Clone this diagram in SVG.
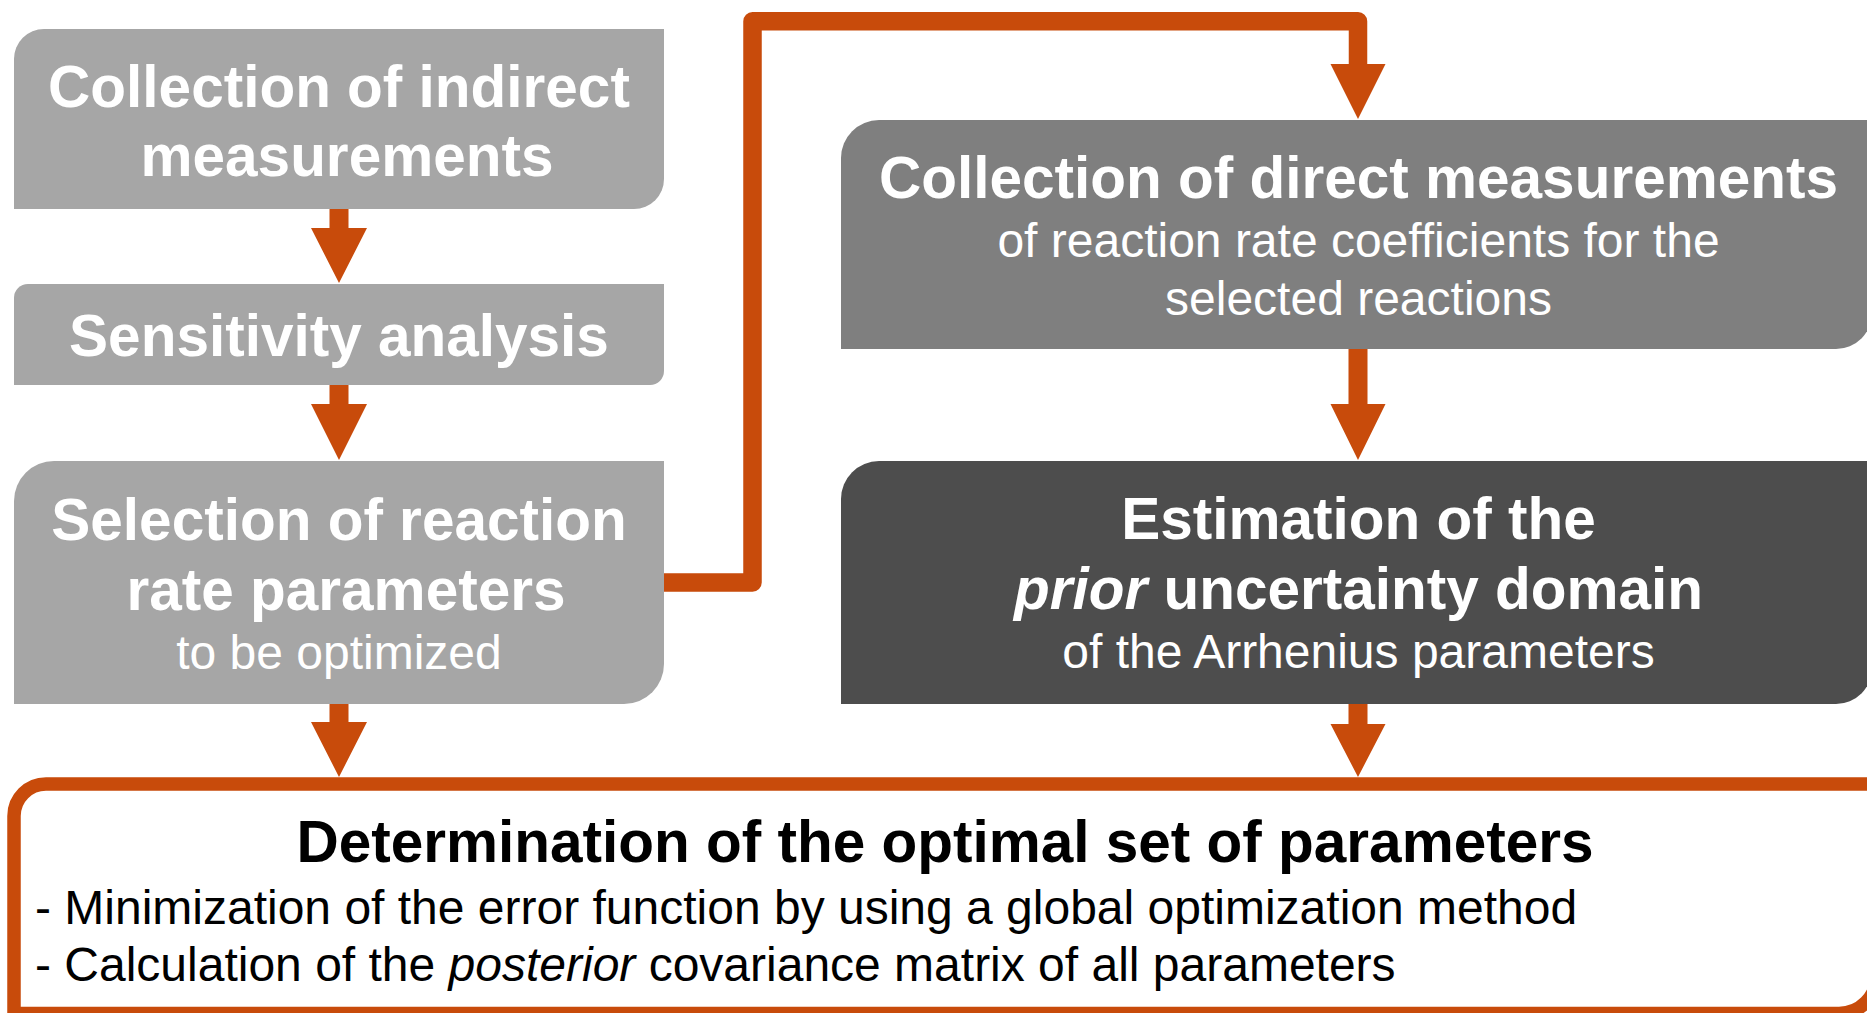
<svg xmlns="http://www.w3.org/2000/svg" width="1867" height="1013" viewBox="0 0 1867 1013">
<style>
text{font-family:"Liberation Sans",Arial,Helvetica,sans-serif;text-anchor:middle}
.b{font-weight:bold;font-size:58.5px}
.r{font-size:48px}
.w{fill:#ffffff}
.k{fill:#000000}
.i{font-style:italic}
.arrow{fill:#c84b0b}
.conn{fill:none;stroke:#c84b0b;stroke-width:18.5;stroke-linejoin:round}
</style>
<rect x="0" y="0" width="1867" height="1013" fill="#ffffff"/>
<g id="connectors">
<polygon class="arrow" points="329.5,208 348.5,208 348.5,228 367,228 339,283 311,228 329.5,228"/>
<polygon class="arrow" points="329.5,384 348.5,384 348.5,404 367,404 339,460 311,404 329.5,404"/>
<polygon class="arrow" points="329.5,703 348.5,703 348.5,722 367,722 339,777 311,722 329.5,722"/>
<polyline class="conn" points="663,582.5 752.5,582.5 752.5,21.2 1358,21.2 1358,65"/>
<polygon class="arrow" points="1330.5,64 1385.5,64 1358,119"/>
<polygon class="arrow" points="1348.5,348 1367.5,348 1367.5,404 1385.5,404 1358,460 1330.5,404 1348.5,404"/>
<polygon class="arrow" points="1348.5,703 1367.5,703 1367.5,724 1385.5,724 1358,777 1330.5,724 1348.5,724"/>
</g>
<g id="node-indirect">
<path d="M44,29 H664 V179 A30,30 0 0 1 634,209 H14 V59 A30,30 0 0 1 44,29 Z" fill="#a6a6a6"/>
<text class="b w" x="339" y="107">Collection of indirect</text>
<text class="b w" x="347" y="176">measurements</text>
</g>
<g id="node-sensitivity">
<path d="M28,284 H664 V371 A14,14 0 0 1 650,385 H14 V298 A14,14 0 0 1 28,284 Z" fill="#a6a6a6"/>
<text class="b w" x="339" y="356">Sensitivity analysis</text>
</g>
<g id="node-selection">
<path d="M54,461 H664 V664 A40,40 0 0 1 624,704 H14 V501 A40,40 0 0 1 54,461 Z" fill="#a6a6a6"/>
<text class="b w" x="339" y="540">Selection of reaction</text>
<text class="b w" x="346" y="610">rate parameters</text>
<text class="r w" x="339" y="669">to be optimized</text>
</g>
<g id="node-direct">
<path d="M879,120 H1872 V313 A36,36 0 0 1 1836,349 H841 V158 A38,38 0 0 1 879,120 Z" fill="#7f7f7f"/>
<text class="b w" x="1358.5" y="198">Collection of direct measurements</text>
<text class="r w" x="1358.5" y="257">of reaction rate coefficients for the</text>
<text class="r w" x="1358.5" y="315">selected reactions</text>
</g>
<g id="node-prior">
<path d="M879,461 H1872 V668 A36,36 0 0 1 1836,704 H841 V499 A38,38 0 0 1 879,461 Z" fill="#4d4d4d"/>
<text class="b w" x="1358.5" y="539">Estimation of the</text>
<text class="b w" x="1358.5" y="609"><tspan class="i">prior</tspan> uncertainty domain</text>
<text class="r w" x="1358.5" y="668">of the Arrhenius parameters</text>
</g>
<g id="node-optimal">
<path d="M46,784 H1877 V975.5 A38,38 0 0 1 1839,1013.5 H14 V816 A32,32 0 0 1 46,784 Z" fill="#ffffff" stroke="#c84b0b" stroke-width="13.5"/>
<text class="b k" x="945" y="862">Determination of the optimal set of parameters</text>
<text class="r k" x="35" y="924" style="text-anchor:start">- Minimization of the error function by using a global optimization method</text>
<text class="r k" x="35" y="981" style="text-anchor:start">- Calculation of the <tspan class="i">posterior</tspan> covariance matrix of all parameters</text>
</g>
</svg>
